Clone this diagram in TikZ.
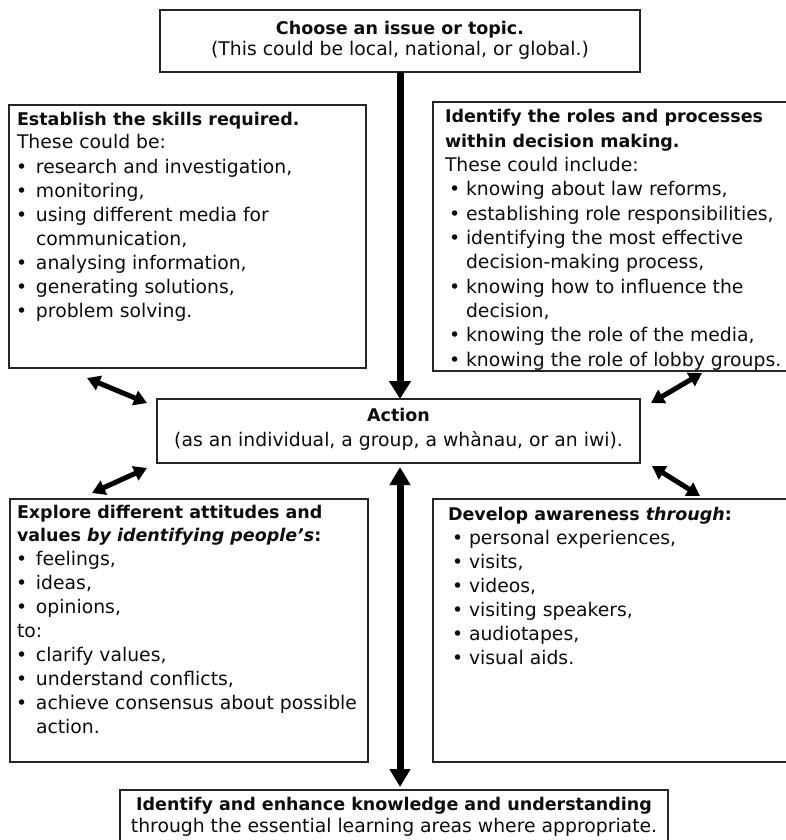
\documentclass[tikz,border=0pt]{standalone}
\usepackage{fontspec}
\setmainfont{DejaVu Sans}
\usetikzlibrary{arrows.meta}
\newcommand{\rg}[1]{\fontsize{18.8}{#1}\selectfont}
\newcommand{\hd}{\fontsize{17.5}{17.5}\selectfont\bfseries}
\newcommand{\bl}{\makebox[19pt][l]{\hspace{-1pt}•}}
\newcommand{\blr}{\makebox[21pt][l]{\hspace{4pt}•}}
\newcommand{\ind}{\hspace*{19pt}}
\newcommand{\indr}{\hspace*{21pt}}
\begin{document}
\begin{tikzpicture}[x=1pt,y=-1pt,
  box/.style={draw=black!85,line width=1.4pt,inner sep=0pt,outer sep=0pt,anchor=north west},
  txt/.style={inner sep=0pt,outer sep=0pt,anchor=base west,text=black!95},
  ctxt/.style={inner sep=0pt,outer sep=0pt,anchor=base,text=black!95},
  bigarrow/.style={line width=7pt,-{Triangle[width=21pt,length=18pt]}},
  dblarrow/.style={line width=7pt,{Triangle[width=20pt,length=18pt]}-{Triangle[width=20pt,length=18pt]}},
  diag/.style={line width=5pt,{Triangle[width=15pt,length=13pt]}-{Triangle[width=15pt,length=13pt]}}]

\useasboundingbox (0,0) rectangle (786,840);
\fill[white] (0,0) rectangle (786,840);

% boxes
\node[box,minimum width=480pt,minimum height=62pt] (topic) at (160,10) {};
\node[box,minimum width=357pt,minimum height=263pt] (skills) at (9,105) {};
\node[box,minimum width=380pt,minimum height=269pt] (roles) at (433,102) {};
\node[box,minimum width=483pt,minimum height=64pt] (action) at (157,399) {};
\node[box,minimum width=358pt,minimum height=263pt] (explore) at (10,499) {};
\node[box,minimum width=380pt,minimum height=263pt] (develop) at (433,499) {};
\node[box,minimum width=548pt,minimum height=70pt] (know) at (120,790) {};

% texts
\node[ctxt] (topicT) at (400,35) {\rg{21}\begin{tabular}[t]{@{}c@{}}
{\hd Choose an issue or topic.}\\
(This could be local, national, or global.)
\end{tabular}};

\node[txt] (skillsT) at (17,125) {\rg{24}\begin{tabular}[t]{@{}l@{}}
{\hd Establish the skills required.}\\
These could be:\\
\bl research and investigation,\\
\bl monitoring,\\
\bl using different media for\\
\ind communication,\\
\bl analysing information,\\
\bl generating solutions,\\
\bl problem solving.
\end{tabular}};

\node[txt] (rolesT) at (445,123) {\rg{24.3}\begin{tabular}[t]{@{}l@{}}
{\hd Identify the roles and processes}\\
{\hd within decision making.}\\
These could include:\\
\blr knowing about law reforms,\\
\blr establishing role responsibilities,\\
\blr identifying the most effective\\
\indr decision-making process,\\
\blr knowing how to influence the\\
\indr decision,\\
\blr knowing the role of the media,\\
\blr knowing the role of lobby groups.
\end{tabular}};

\node[ctxt] (actionT) at (398.5,421) {\rg{25}\begin{tabular}[t]{@{}c@{}}
{\hd Action}\\
(as an individual, a group, a whànau, or an iwi).
\end{tabular}};

\node[txt] (exploreT) at (17,518) {\rg{23.9}\begin{tabular}[t]{@{}l@{}}
{\hd Explore different attitudes and}\\
{\hd values \textit{by identifying people's}:}\\
\bl feelings,\\
\bl ideas,\\
\bl opinions,\\
to:\\
\bl clarify values,\\
\bl understand conflicts,\\
\bl achieve consensus about possible\\
\ind action.
\end{tabular}};

\node[txt] (developT) at (448,520) {\rg{24}\begin{tabular}[t]{@{}l@{}}
{\hd Develop awareness \textit{through}:}\\
\blr personal experiences,\\
\blr visits,\\
\blr videos,\\
\blr visiting speakers,\\
\blr audiotapes,\\
\blr visual aids.
\end{tabular}};

\node[ctxt] (knowT) at (394,810) {\rg{22}\begin{tabular}[t]{@{}c@{}}
{\hd Identify and enhance knowledge and understanding}\\
through the essential learning areas where appropriate.
\end{tabular}};

% arrows
\draw[bigarrow] (topic.south) -- (topic.south |- action.north);
\draw[dblarrow,shorten <=4pt,shorten >=3pt] (topic.south |- action.south) -- (topic.south |- know.north);

\coordinate (tlOut) at ([shift={(78,10)}]skills.south west);
\coordinate (tlIn) at ([shift={(-10,4)}]action.north west);
\coordinate (trOut) at ([shift={(269,2)}]roles.south west);
\coordinate (trIn) at ([shift={(11,4)}]action.north east);
\coordinate (blOut) at ([shift={(82,-6)}]explore.north west);
\coordinate (blIn) at ([shift={(-10,5)}]action.south west);
\coordinate (brOut) at ([shift={(267,-3)}]develop.north west);
\coordinate (brIn) at ([shift={(12,3)}]action.south east);

\draw[diag] (tlOut) -- (tlIn);
\draw[diag] (trOut) -- (trIn);
\draw[diag] (blOut) -- (blIn);
\draw[diag] (brOut) -- (brIn);
\end{tikzpicture}
\end{document}
